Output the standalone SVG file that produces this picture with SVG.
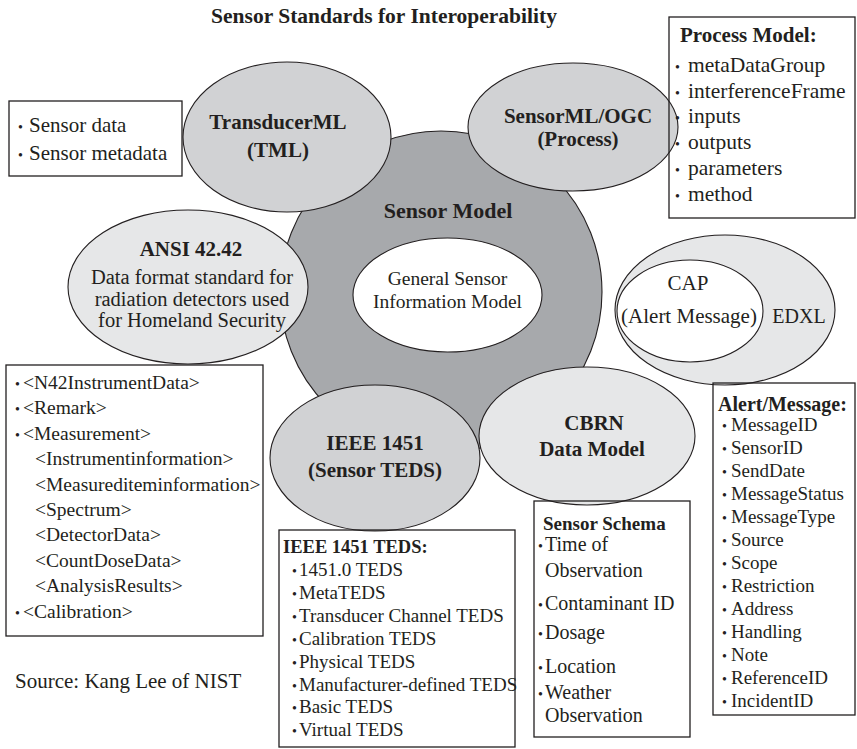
<svg xmlns="http://www.w3.org/2000/svg" width="857" height="749" viewBox="0 0 857 749">
<style>
text{font-family:"Liberation Serif","Times New Roman",serif;fill:#231f20}
.b{font-weight:bold}
.c{text-anchor:middle}
.el{stroke:#231f20;stroke-width:1.1}
.mid{fill:#d1d2d4}
.lt{fill:#e6e7e8}
.box{fill:none;stroke:#231f20;stroke-width:1.3}
.bu{font-size:14px}
</style>
<rect width="857" height="749" fill="#fff"/>
<text class="b c" x="384" y="23" font-size="21.5">Sensor Standards for Interoperability</text>

<g id="sensor-model">
<circle class="el" cx="441" cy="292" r="161" fill="#a7a9ac"/>
<text class="b c" x="448" y="218" font-size="22">Sensor Model</text>
</g>
<g id="general-model">
<ellipse class="el" cx="447.5" cy="295" rx="94.5" ry="57" fill="#fff"/>
<text class="c" x="447.5" y="285" font-size="19.5">General Sensor</text>
<text class="c" x="447.5" y="308" font-size="19.5">Information Model</text>
</g>

<g id="tml">
<ellipse class="el mid" cx="287" cy="137" rx="104" ry="75"/>
<text class="b c" x="278" y="129" font-size="21">TransducerML</text>
<text class="b c" x="278" y="157" font-size="21">(TML)</text>
</g>
<g id="sensorml">
<ellipse class="el mid" cx="573" cy="127" rx="105" ry="64"/>
<text class="b c" x="578" y="123" font-size="21">SensorML/OGC</text>
<text class="b c" x="578" y="146" font-size="21">(Process)</text>
</g>
<g id="ansi">
<ellipse class="el lt" cx="188" cy="287" rx="120" ry="77"/>
<text class="b c" x="191" y="256" font-size="21">ANSI 42.42</text>
<text class="c" x="192" y="284" font-size="20.5">Data format standard for</text>
<text class="c" x="192" y="306" font-size="20.5">radiation detectors used</text>
<text class="c" x="192" y="327" font-size="20.5">for Homeland Security</text>
</g>
<g id="ieee">
<ellipse class="el mid" cx="375" cy="458" rx="105" ry="73"/>
<text class="b c" x="375" y="450" font-size="21">IEEE 1451</text>
<text class="b c" x="375" y="477" font-size="21">(Sensor TEDS)</text>
</g>
<g id="cbrn">
<ellipse class="el lt" cx="587" cy="436" rx="108" ry="69"/>
<text class="b c" x="594" y="430" font-size="21">CBRN</text>
<text class="b c" x="592" y="456" font-size="21">Data Model</text>
</g>
<g id="edxl">
<ellipse class="el lt" cx="725" cy="310" rx="110" ry="75"/>
<text class="c" x="799" y="323" font-size="20">EDXL</text>
</g>
<g id="cap">
<ellipse class="el" cx="690" cy="311" rx="73" ry="51" fill="#fff"/>
<text class="c" x="688" y="290" font-size="21">CAP</text>
<text class="c" x="689" y="323" font-size="21">(Alert Message)</text>
</g>

<g id="tml-box">
<rect class="box" x="9" y="101" width="173" height="75"/>
<text font-size="21" x="18" y="132"><tspan class="bu">•</tspan><tspan x="29">Sensor data</tspan></text>
<text font-size="21" x="18" y="160"><tspan class="bu">•</tspan><tspan x="29">Sensor metadata</tspan></text>
</g>

<g id="process-box">
<rect class="box" x="669" y="17" width="186" height="201"/>
<text class="b" font-size="21" x="680" y="42">Process Model:</text>
<g font-size="21.5">
<text x="675" y="72"><tspan class="bu">•</tspan><tspan x="688">metaDataGroup</tspan></text>
<text x="675" y="97.7"><tspan class="bu">•</tspan><tspan x="688">interferenceFrame</tspan></text>
<text x="675" y="123.4"><tspan class="bu">•</tspan><tspan x="688">inputs</tspan></text>
<text x="675" y="149"><tspan class="bu">•</tspan><tspan x="688">outputs</tspan></text>
<text x="675" y="174.8"><tspan class="bu">•</tspan><tspan x="688">parameters</tspan></text>
<text x="675" y="200.5"><tspan class="bu">•</tspan><tspan x="688">method</tspan></text>
</g>
</g>

<g id="n42-box">
<rect class="box" x="6" y="365" width="257" height="271"/>
<g font-size="19.5">
<text x="15" y="389"><tspan class="bu">•</tspan><tspan x="23">&lt;N42InstrumentData&gt;</tspan></text>
<text x="15" y="414.4"><tspan class="bu">•</tspan><tspan x="23">&lt;Remark&gt;</tspan></text>
<text x="15" y="439.8"><tspan class="bu">•</tspan><tspan x="23">&lt;Measurement&gt;</tspan></text>
<text x="35" y="465.2">&lt;Instrumentinformation&gt;</text>
<text x="35" y="490.6">&lt;Measurediteminformation&gt;</text>
<text x="35" y="516">&lt;Spectrum&gt;</text>
<text x="35" y="541.4">&lt;DetectorData&gt;</text>
<text x="35" y="566.8">&lt;CountDoseData&gt;</text>
<text x="35" y="592.2">&lt;AnalysisResults&gt;</text>
<text x="15" y="617.6"><tspan class="bu">•</tspan><tspan x="23">&lt;Calibration&gt;</tspan></text>
</g>
</g>

<text id="source" x="15" y="688" font-size="21">Source: Kang Lee of NIST</text>

<g id="teds-box">
<rect class="box" x="279" y="530" width="236" height="217"/>
<text class="b" font-size="18.5" x="283" y="553">IEEE 1451 TEDS:</text>
<g font-size="19">
<text x="292" y="576"><tspan class="bu">•</tspan><tspan x="299">1451.0 TEDS</tspan></text>
<text x="292" y="598.9"><tspan class="bu">•</tspan><tspan x="299">MetaTEDS</tspan></text>
<text x="292" y="621.8"><tspan class="bu">•</tspan><tspan x="299">Transducer Channel TEDS</tspan></text>
<text x="292" y="644.7"><tspan class="bu">•</tspan><tspan x="299">Calibration TEDS</tspan></text>
<text x="292" y="667.6"><tspan class="bu">•</tspan><tspan x="299">Physical TEDS</tspan></text>
<text x="292" y="690.5"><tspan class="bu">•</tspan><tspan x="299">Manufacturer-defined TEDS</tspan></text>
<text x="292" y="713.4"><tspan class="bu">•</tspan><tspan x="299">Basic TEDS</tspan></text>
<text x="292" y="736.3"><tspan class="bu">•</tspan><tspan x="299">Virtual TEDS</tspan></text>
</g>
</g>

<g id="schema-box">
<rect class="box" x="534" y="501" width="156" height="236"/>
<text class="b" font-size="19" x="543" y="530">Sensor Schema</text>
<g font-size="20">
<text x="538" y="551"><tspan class="bu">•</tspan><tspan x="545">Time of</tspan></text>
<text x="545" y="577">Observation</text>
<text x="538" y="610"><tspan class="bu">•</tspan><tspan x="545">Contaminant ID</tspan></text>
<text x="538" y="639"><tspan class="bu">•</tspan><tspan x="545">Dosage</tspan></text>
<text x="538" y="673"><tspan class="bu">•</tspan><tspan x="545">Location</tspan></text>
<text x="538" y="699"><tspan class="bu">•</tspan><tspan x="545">Weather</tspan></text>
<text x="545" y="722">Observation</text>
</g>
</g>

<g id="alert-box">
<rect class="box" x="713" y="383" width="142" height="332"/>
<text class="b" font-size="20" x="718" y="411">Alert/Message:</text>
<g font-size="19">
<text x="722" y="431"><tspan class="bu">•</tspan><tspan x="731">MessageID</tspan></text>
<text x="722" y="454"><tspan class="bu">•</tspan><tspan x="731">SensorID</tspan></text>
<text x="722" y="477"><tspan class="bu">•</tspan><tspan x="731">SendDate</tspan></text>
<text x="722" y="500"><tspan class="bu">•</tspan><tspan x="731">MessageStatus</tspan></text>
<text x="722" y="523"><tspan class="bu">•</tspan><tspan x="731">MessageType</tspan></text>
<text x="722" y="546"><tspan class="bu">•</tspan><tspan x="731">Source</tspan></text>
<text x="722" y="569"><tspan class="bu">•</tspan><tspan x="731">Scope</tspan></text>
<text x="722" y="592"><tspan class="bu">•</tspan><tspan x="731">Restriction</tspan></text>
<text x="722" y="615"><tspan class="bu">•</tspan><tspan x="731">Address</tspan></text>
<text x="722" y="638"><tspan class="bu">•</tspan><tspan x="731">Handling</tspan></text>
<text x="722" y="661"><tspan class="bu">•</tspan><tspan x="731">Note</tspan></text>
<text x="722" y="684"><tspan class="bu">•</tspan><tspan x="731">ReferenceID</tspan></text>
<text x="722" y="707"><tspan class="bu">•</tspan><tspan x="731">IncidentID</tspan></text>
</g>
</g>
<g id="connectors"/>
</svg>
